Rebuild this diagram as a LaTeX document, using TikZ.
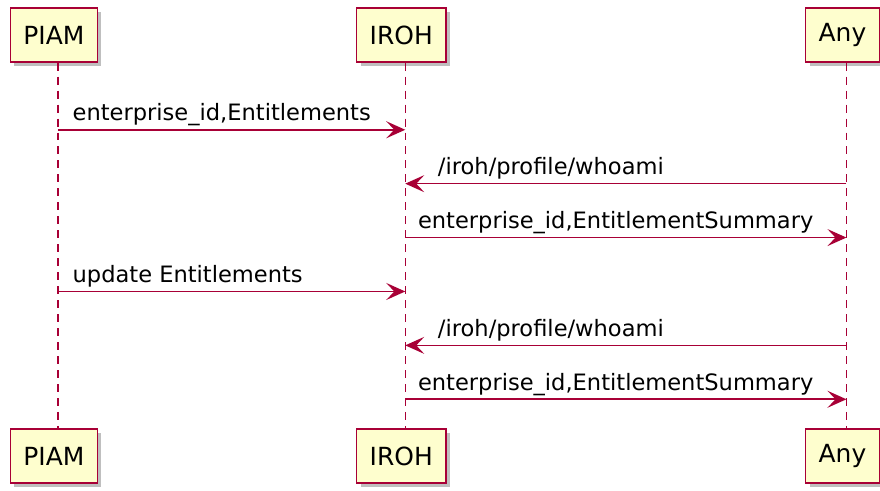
\documentclass[tikz,border=0pt]{standalone}
\usepackage{fontspec}
\setmainfont{DejaVu Sans}
\usetikzlibrary{calc,arrows.meta,shadows}
\definecolor{umlred}{HTML}{A80036}
\definecolor{umlfill}{HTML}{FEFECE}

\begin{document}
\begin{tikzpicture}[x=1pt,y=-1pt,
    actor/.style={draw=umlred, line width=1.5pt, fill=umlfill, inner xsep=13pt,
      minimum height=54pt, font=\fontsize{25}{29}\selectfont,
      drop shadow={shadow xshift=4pt, shadow yshift=-4pt, fill=black, opacity=0.25}},
    life/.style={umlred, line width=1.3pt, dash pattern=on 8pt off 6pt},
    msg/.style={umlred, line width=1.6pt, -{Stealth[length=19pt, width=17pt, inset=8pt]}},
    txt/.style={font=\fontsize{22.6}{26}\selectfont, text=black, inner sep=0pt}]
  % Frame
  \fill[white] (0,0) rectangle (880,491);

  % Participants
  \node[actor] (piam) at (54,35) {PIAM};
  \node[actor] (iroh) at (402,35) {IROH};
  \node[actor] (any)  at (844,35) {Any};
  \node[actor] (piamB) at (54,457) {PIAM};
  \node[actor] (irohB) at (402,457) {IROH};
  \node[actor] (anyB)  at (844,457) {Any};

  % Lifelines
  \coordinate (piamL) at (58,0);
  \coordinate (irohL) at (406,0);
  \coordinate (anyL)  at (848,0);
  \draw[life] (piamL |- piam.south) -- (piamL |- piamB.north);
  \draw[life] (irohL |- iroh.south) -- (irohL |- irohB.north);
  \draw[life] (anyL |- any.south) -- (anyL |- anyB.north);

  % Message rows
  \coordinate (m1) at (0,130);
  \coordinate (m2) at (0,184);
  \coordinate (m3) at (0,238);
  \coordinate (m4) at (0,292);
  \coordinate (m5) at (0,346);
  \coordinate (m6) at (0,400);

  % Messages
  \draw[msg] (piamL |- m1) -- (irohL |- m1)
    node[txt, pos=0, anchor=base west, xshift=14pt, yshift=9pt] {enterprise\_id,Entitlements};
  \draw[msg] (anyL |- m2) -- (irohL |- m2)
    node[txt, pos=1, anchor=base west, xshift=32pt, yshift=9pt] {/iroh/profile/whoami};
  \draw[msg] (irohL |- m3) -- (anyL |- m3)
    node[txt, pos=0, anchor=base west, xshift=12pt, yshift=9pt] {enterprise\_id,EntitlementSummary};
  \draw[msg] (piamL |- m4) -- (irohL |- m4)
    node[txt, pos=0, anchor=base west, xshift=14pt, yshift=9pt] {update Entitlements};
  \draw[msg] (anyL |- m5) -- (irohL |- m5)
    node[txt, pos=1, anchor=base west, xshift=32pt, yshift=9pt] {/iroh/profile/whoami};
  \draw[msg] (irohL |- m6) -- (anyL |- m6)
    node[txt, pos=0, anchor=base west, xshift=12pt, yshift=9pt] {enterprise\_id,EntitlementSummary};

  \useasboundingbox (0,0) rectangle (880,491);
\end{tikzpicture}
\end{document}
